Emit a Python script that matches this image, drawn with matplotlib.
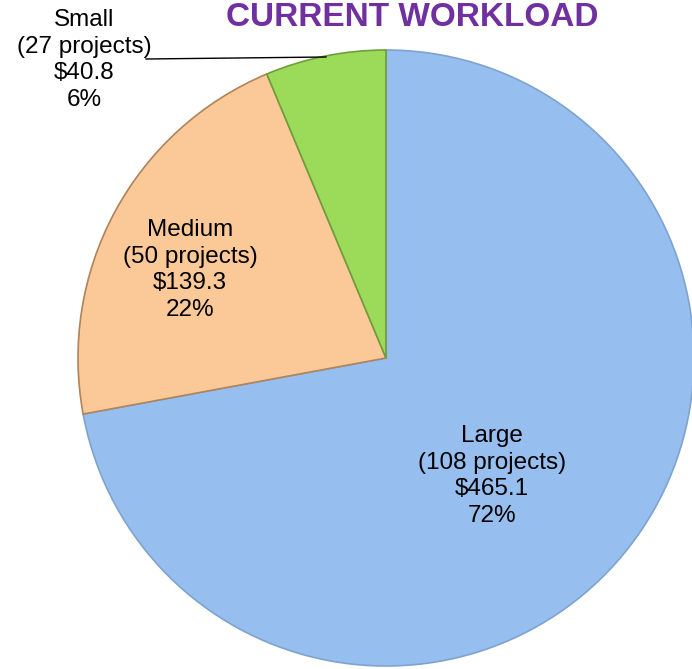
import matplotlib
matplotlib.use("Agg")
import matplotlib.pyplot as plt

plt.rcParams['font.family'] = ['Liberation Sans', 'DejaVu Sans']

categories = ["Large", "Medium", "Small"]
projects = [108, 50, 27]
values = [465.1, 139.3, 40.8]
percents = [72, 22, 6]
colors = ["#96BEEF", "#FBC998", "#9CDB5A"]
edges = ["#7FA3CF", "#B0835A", "#6E9E3A"]

W, H = 692, 669
fig = plt.figure(figsize=(W / 100, H / 100), dpi=100)

cx, cy, r = 386, 358, 308
ax = fig.add_axes([(cx - r) / W, (H - cy - r) / H, 2 * r / W, 2 * r / H])
wedges, _ = ax.pie(values, colors=colors, startangle=90, counterclock=False,
                   wedgeprops=dict(linewidth=1.2, edgecolor="none"))
for w, ec in zip(wedges, edges):
    w.set_edgecolor(ec)
ax.set_xlim(-1, 1)
ax.set_ylim(-1, 1)
ax.set_aspect('equal')
ax.axis('off')

labels = [f"{c}\n({p} projects)\n${v:.1f}\n{pc}%" for c, p, v, pc in zip(categories, projects, values, percents)]

def fx(px):
    return px / W

def fy(py):
    return 1 - py / H

label_pos = [(492, 476), (190, 270), (84, 60)]
for lab, (px, py) in zip(labels, label_pos):
    fig.text(fx(px), fy(py), lab, ha='center', va='center', fontsize=17.5,
             linespacing=1.28, color='black')

# leader line for Small
fig.add_artist(plt.Line2D([fx(146), fx(326)], [fy(59), fy(57)], color='black', lw=1))

fig.text(fx(412), fy(26), "CURRENT WORKLOAD", ha='center', va='baseline',
         fontsize=24, fontweight='heavy', color='#7030A0')

fig.savefig("out.png", dpi=100)
